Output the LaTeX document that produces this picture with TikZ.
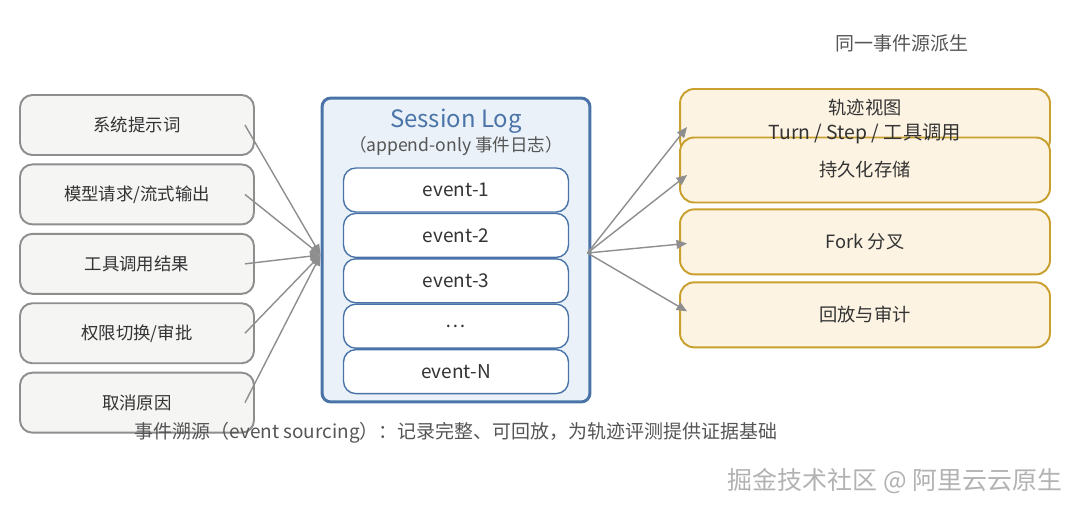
\documentclass[tikz,border=0pt]{standalone}
\usepackage{fontspec}
\setmainfont{Noto Sans CJK SC}
\usetikzlibrary{positioning,arrows.meta}

\definecolor{boxgray}{HTML}{F5F5F4}
\definecolor{linegray}{HTML}{8E8E8E}
\definecolor{logblue}{HTML}{4A74A8}
\definecolor{logfill}{HTML}{EAF1F8}
\definecolor{outgold}{HTML}{C9A02E}
\definecolor{outfill}{HTML}{FCF3E3}
\definecolor{txtgray}{HTML}{555555}
\definecolor{txtdark}{HTML}{333333}

\tikzset{
  srcbox/.style={rectangle, rounded corners=7pt, draw=linegray, line width=1.1pt, fill=boxgray,
    minimum width=4.68cm, minimum height=1.2cm, text=txtdark, font=\fontsize{9.9}{12}\selectfont},
  logbox/.style={rectangle, rounded corners=5pt, draw=logblue, line width=1.7pt, fill=logfill,
    minimum width=5.36cm, minimum height=6.08cm},
  evbox/.style={rectangle, rounded corners=7pt, draw=logblue, line width=0.8pt, fill=white,
    minimum width=4.5cm, minimum height=0.88cm, text=txtdark, font=\fontsize{10.8}{13}\selectfont},
  outbox/.style={rectangle, rounded corners=8pt, draw=outgold, line width=1.1pt, fill=outfill,
    minimum width=7.4cm, minimum height=1.3cm, text=txtdark, font=\fontsize{10.4}{12}\selectfont},
  feed/.style={draw=linegray, line width=0.8pt, -{Triangle[length=6pt,width=5pt]}},
}

\begin{document}
\begin{tikzpicture}[x=0.02cm, y=-0.02cm, node distance=0.15cm]
    \useasboundingbox (0,0) rectangle (1080,511);

    \node[srcbox] (sys) at (137,125) {系统提示词};
    \node[srcbox, below=of sys] (req) {模型请求/流式输出};
    \node[srcbox, below=of req] (tool) {工具调用结果};
    \node[srcbox, below=of tool] (perm) {权限切换/审批};
    \node[srcbox, below=of perm] (cancel) {取消原因};

    \node[logbox] (log) at (456,250) {};
    \node[text=logblue, font=\fontsize{13.6}{16}\selectfont] (title) at (456,121) {Session Log};
    \node[text=txtgray, font=\fontsize{10}{12}\selectfont] (sub) at (456,146) {（append-only 事件日志）};
    \node[evbox] (e1) at (456,190) {event-1};
    \node[evbox, below=0pt of e1] (e2) {event-2};
    \node[evbox, below=0pt of e2] (e3) {event-3};
    \node[evbox, below=0pt of e3] (e4) {…};
    \node[evbox, below=0pt of e4] (eN) {event-N};

    \node[outbox] (view) at (865,121.5) {};
    \node[outbox] (store) at (865,170) {持久化存储};
    \node[outbox, below=0.1cm of store] (fork) {Fork 分叉};
    \node[outbox, below=0.12cm of fork] (replay) {回放与审计};
    \node[align=center, text=txtdark, font=\fontsize{10.4}{14.7}\selectfont] (viewtxt) at (view) {轨迹视图\\{\fontsize{11}{14.7}\selectfont Turn / Step / 工具调用}};

    \draw[feed] ([xshift=-0.2cm]sys.east) -- ([yshift=-0.1cm]log.west);
    \draw[feed] ([xshift=-0.2cm]req.east) -- ([yshift=-0.1cm]log.west);
    \draw[feed] ([xshift=-0.2cm]tool.east) -- ([yshift=-0.1cm]log.west);
    \draw[feed] ([xshift=-0.2cm]perm.east) -- ([yshift=-0.1cm]log.west);
    \draw[feed] ([xshift=-0.2cm]cancel.east) -- ([yshift=-0.1cm]log.west);

    \draw[feed] ([xshift=-0.08cm,yshift=-0.06cm]log.east) -- ([xshift=0.16cm,yshift=-0.11cm]view.west);
    \draw[feed] ([xshift=-0.08cm,yshift=-0.06cm]log.east) -- ([xshift=0.16cm,yshift=-0.1cm]store.west);
    \draw[feed] ([xshift=-0.08cm,yshift=-0.06cm]log.east) -- ([xshift=0.16cm,yshift=-0.03cm]fork.west);
    \draw[feed] ([xshift=-0.08cm,yshift=-0.06cm]log.east) -- ([xshift=0.16cm,yshift=0.07cm]replay.west);

    \node[text=txtgray, font=\fontsize{10.8}{13}\selectfont] (srclbl) at (902,43) {同一事件源派生};
    \node[text=txtgray, font=\fontsize{10.8}{13}\selectfont] (note) at (456,433) {事件溯源（event sourcing）：记录完整、可回放，为轨迹评测提供证据基础};
    \node[text=gray!60, font=\fontsize{14.2}{17}\selectfont] (mark) at (895,481) {掘金技术社区 @ 阿里云云原生};
\end{tikzpicture}
\end{document}
